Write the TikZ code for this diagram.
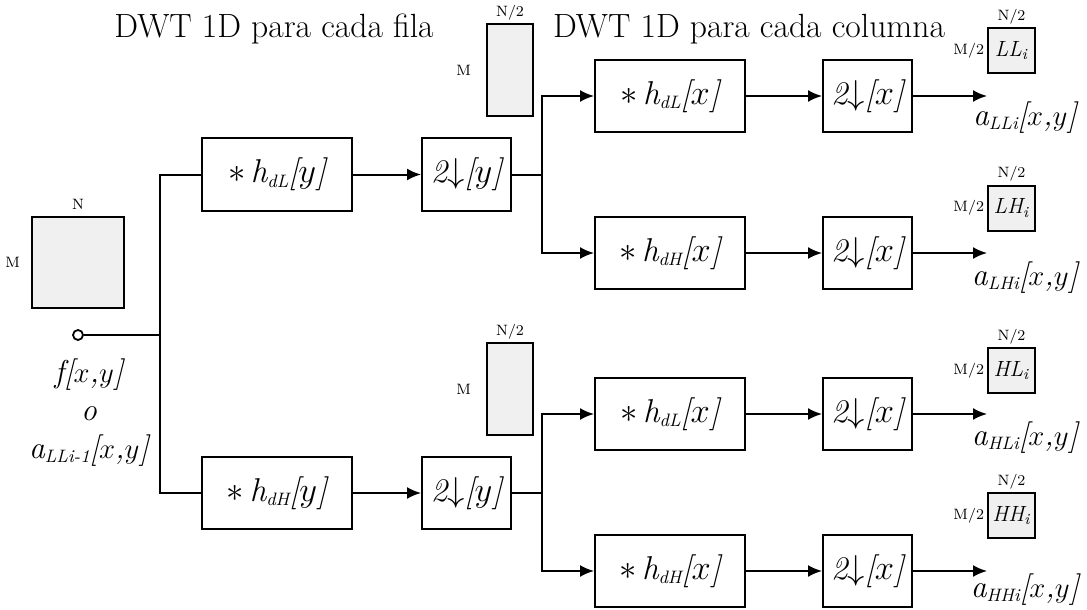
\documentclass[tikz,border=0pt]{standalone}
\usetikzlibrary{arrows.meta}
% lowered small index used in the signal names
\newcommand\idx[1]{\raisebox{-0.3ex}{\fontsize{9}{10}\selectfont #1}}
\begin{document}
\begin{tikzpicture}[x=0.5pt,y=-0.5pt,
  line width=1pt,
  big/.style={font=\fontsize{16.8}{20}\selectfont},
  txt/.style={font=\fontsize{16.5}{19}\selectfont\itshape},
  sig/.style={font=\fontsize{15.8}{19}\selectfont\itshape},
  dim/.style={font=\fontsize{7.5}{9}\selectfont, inner sep=1pt},
  filt/.style={draw, txt, minimum width=75pt, minimum height=36pt, inner sep=0pt},
  down/.style={draw, txt, minimum width=44.5pt, minimum height=36pt, inner sep=0pt},
  img/.style={draw, fill=black!6, inner sep=0pt},
  sub/.style={img, minimum width=23.5pt, minimum height=22.5pt, font=\fontsize{11}{13}\selectfont\itshape},
  half/.style={img, minimum width=23pt, minimum height=46pt},
  arr/.style={-{Latex[length=7pt,width=6pt]}}]
\useasboundingbox (0,0) rectangle (1087,610);

% titles
\node[big] (t1) at (274,29) {DWT 1D para cada fila};
\node[big] (t2) at (749,29) {DWT 1D para cada columna};

% input image
\node[img, minimum width=46pt, minimum height=45.5pt] (in) at (78,262.5) {};
\node[dim, above=2pt] (inN) at (in.north) {N};
\node[dim, left=4pt] (inM) at (in.west) {M};
\node[draw, circle, fill=white, inner sep=0pt, minimum size=5pt, line width=0.9pt] (src) at (78,335) {};
\node[sig, align=center] (lab) at (89,413) {f[$x$,$y$]\\[0pt]o\\[0pt]a\idx{LLi-1}[$x$,$y$]};

% row stage
\coordinate (j) at (160,335);
\node[filt] (b1) at (277,174.5) {$\ast$\,h\idx{dL}[$y$]};
\node[down] (b2) at (466.5,174.5) {2$\downarrow$[$y$]};
\node[filt] (b3) at (277,493) {$\ast$\,h\idx{dH}[$y$]};
\node[down] (b4) at (466.5,493) {2$\downarrow$[$y$]};

\draw (src) -- (j);
\draw (j) |- (b1.west);
\draw (j) |- (b3.west);
\draw[arr] (b1) -- (b2);
\draw[arr] (b3) -- (b4);

% intermediate images
\node[half] (ru) at (510,70) {};
\node[dim, above] (ruN) at (ru.north) {N/2};
\node[dim, left=6pt] (ruM) at (ru.west) {M};
\node[half] (rd) at (510,389) {};
\node[dim, above] (rdN) at (rd.north) {N/2};
\node[dim, left=6pt] (rdM) at (rd.west) {M};

% column stage
\coordinate (s1) at (542,174.5);
\coordinate (s2) at (542,493);
\node[filt] (c1) at (670,96) {$\ast$\,h\idx{dL}[$x$]};
\node[down] (d1) at (867.5,96) {2$\downarrow$[$x$]};
\node[filt] (c2) at (670,253) {$\ast$\,h\idx{dH}[$x$]};
\node[down] (d2) at (867.5,253) {2$\downarrow$[$x$]};
\node[filt] (c3) at (670,414) {$\ast$\,h\idx{dL}[$x$]};
\node[down] (d3) at (867.5,414) {2$\downarrow$[$x$]};
\node[filt] (c4) at (670,571) {$\ast$\,h\idx{dH}[$x$]};
\node[down] (d4) at (867.5,571) {2$\downarrow$[$x$]};

\draw (b2) -- (s1);
\draw[arr] (s1) |- (c1.west);
\draw[arr] (s1) |- (c2.west);
\draw (b4) -- (s2);
\draw[arr] (s2) |- (c3.west);
\draw[arr] (s2) |- (c4.west);
\draw[arr] (c1) -- (d1);
\draw[arr] (c2) -- (d2);
\draw[arr] (c3) -- (d3);
\draw[arr] (c4) -- (d4);

% outputs
\coordinate (o1) at (987,96);
\coordinate (o2) at (987,253);
\coordinate (o3) at (987,414);
\coordinate (o4) at (987,571);
\draw[arr] (d1) -- (o1);
\draw[arr] (d2) -- (o2);
\draw[arr] (d3) -- (o3);
\draw[arr] (d4) -- (o4);
\node[sig] (a1) at (1025,118) {a\idx{LLi}[$x$,$y$]};
\node[sig] (a2) at (1025,278) {a\idx{LHi}[$x$,$y$]};
\node[sig] (a3) at (1025,438) {a\idx{HLi}[$x$,$y$]};
\node[sig] (a4) at (1025,590) {a\idx{HHi}[$x$,$y$]};

% subband images
\node[sub] (q1) at (1011.5,50.5) {LL\textsubscript{i}};
\node[sub] (q2) at (1011.5,208) {LH\textsubscript{i}};
\node[sub] (q3) at (1011.5,370.5) {HL\textsubscript{i}};
\node[sub] (q4) at (1011.5,515.5) {HH\textsubscript{i}};
\foreach \q in {q1,q2,q3,q4}{
  \node[dim, above] at (\q.north) {N/2};
  \node[dim, left] at (\q.west) {M/2};
}
\end{tikzpicture}
\end{document}
